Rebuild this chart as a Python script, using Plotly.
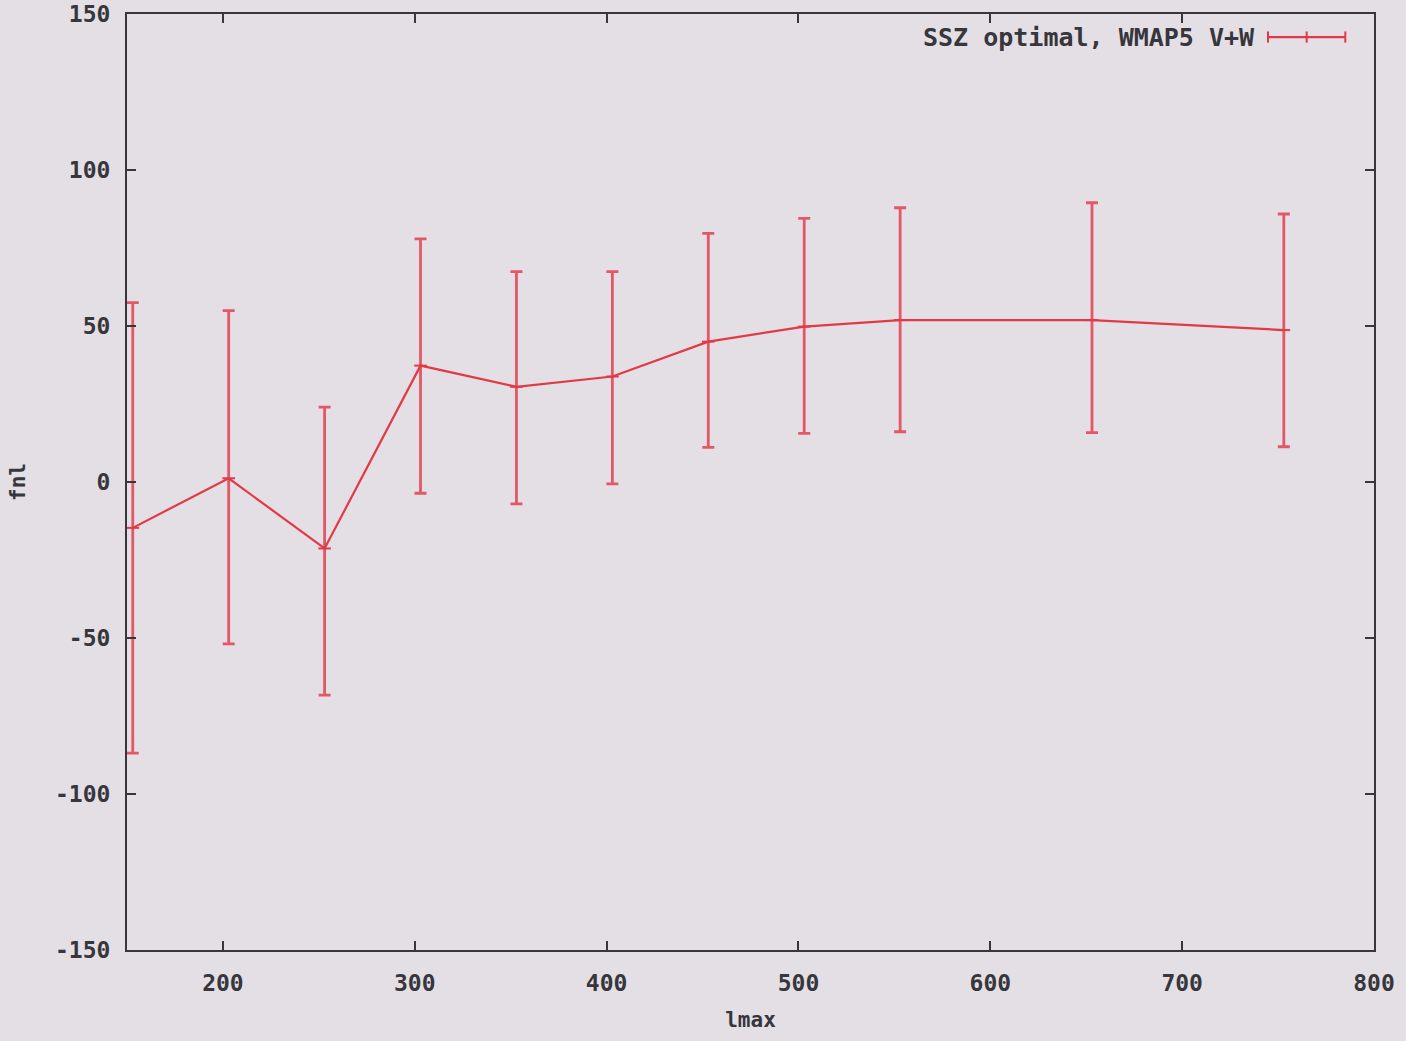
import plotly.graph_objects as go

# f_NL estimates versus maximum multipole, with 1-sigma bounds
lmax = [153, 203, 253, 303, 353, 403, 453, 503, 553, 653, 753]
fnl = [-14.7, 1.2, -21.3, 37.3, 30.5, 33.8, 45.0, 49.8, 51.9, 51.9, 48.7]
fnl_upper = [57.5, 54.9, 24.0, 77.9, 67.4, 67.4, 79.7, 84.5, 87.9, 89.5, 85.9]
fnl_lower = [-86.9, -51.9, -68.3, -3.6, -7.0, -0.6, 11.1, 15.6, 16.1, 15.8, 11.3]

x_ticks = [200, 300, 400, 500, 600, 700, 800]
y_ticks = [-150, -100, -50, 0, 50, 100, 150]

series_name = "SSZ optimal, WMAP5 V+W"

RED = "#e13a46"
BAR = "#e35866"
BG = "#e4dfe5"
INK = "#36363c"
FONT = dict(family="DejaVu Sans Mono", size=23, color=INK)
KEY_FONT = dict(family="DejaVu Sans Mono", size=25, color=INK)
TITLE_FONT = dict(family="DejaVu Sans Mono", size=21, color=INK)

err_plus = [u - v for u, v in zip(fnl_upper, fnl)]
err_minus = [v - l for v, l in zip(fnl, fnl_lower)]

fig = go.Figure()
fig.add_trace(go.Scatter(
    x=lmax, y=fnl, mode="lines+markers", name=series_name,
    line=dict(color=RED, width=2.2),
    marker=dict(symbol="line-ew", size=9, line=dict(color=RED, width=2)),
    error_y=dict(type="data", array=err_plus, arrayminus=err_minus,
                 visible=True, color=BAR, thickness=2.8, width=6),
    showlegend=False,
))

# key in the top-right corner: label followed by a sample line with error bar
ly = 0.9754
fig.add_annotation(
    xref="paper", yref="paper", x=0.906, y=ly, xanchor="right", yanchor="middle",
    text="<b>" + series_name + "</b>", showarrow=False, font=KEY_FONT,
)
lx0, lx1 = 0.915, 0.977
fig.add_shape(type="line", xref="paper", yref="paper", x0=lx0, x1=lx1, y0=ly, y1=ly,
              line=dict(color=RED, width=2.2))
for xx in (lx0, (lx0 + lx1) / 2, lx1):
    fig.add_shape(type="line", xref="paper", yref="paper", x0=xx, x1=xx,
                  y0=ly - 0.006, y1=ly + 0.006, line=dict(color=RED, width=2))

axis_common = dict(
    showgrid=False, zeroline=False, showline=True, linecolor=INK, linewidth=2,
    mirror="ticks", ticks="inside", ticklen=9, tickwidth=1.5, tickcolor=INK,
    tickfont=FONT, automargin=False,
)

fig.update_xaxes(range=[150, 800], tickvals=x_ticks,
                 ticktext=["<b>%d</b>" % v for v in x_ticks],
                 ticklabelstandoff=11,
                 title=dict(text="<b>lmax</b>", font=TITLE_FONT, standoff=18),
                 **axis_common)
fig.update_yaxes(range=[-150, 150], tickvals=y_ticks,
                 ticktext=["<b>%d</b>" % v for v in y_ticks],
                 ticklabelstandoff=10,
                 title=dict(text="<b>fnl</b>", font=TITLE_FONT, standoff=24),
                 **axis_common)

fig.update_layout(
    width=1406, height=1041,
    margin=dict(l=127, r=32, t=14, b=91),
    paper_bgcolor=BG, plot_bgcolor=BG,
)

fig.write_html("out.html")
